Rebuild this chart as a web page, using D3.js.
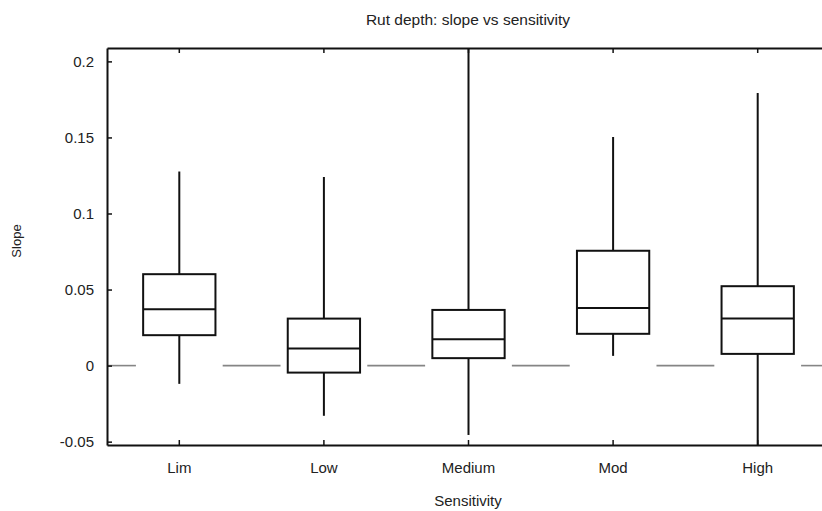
<!DOCTYPE html>
<html>
<head>
<meta charset="utf-8">
<script src="https://cdn.jsdelivr.net/npm/d3@7"></script>
<style>
  html, body { margin: 0; padding: 0; background: #fff; }
  svg { display: block; font-family: "Liberation Sans", Arial, sans-serif; }
</style>
</head>
<body>
<svg id="chart" width="822" height="511"></svg>
<script>
// ---- data ----
const categories = ["Lim", "Low", "Medium", "Mod", "High"];
const whiskerLow  = [-0.012, -0.033, -0.0456, 0.0064, -0.07];
const boxLow      = [0.0200, -0.0046, 0.0049, 0.0209, 0.0077];
const medians     = [0.0371, 0.0112, 0.0174, 0.0378, 0.0309];
const boxHigh     = [0.0601, 0.0309, 0.0366, 0.0755, 0.0522];
const whiskerHigh = [0.1276, 0.124, 0.26, 0.1503, 0.1792];
const yTickValues = [-0.05, 0, 0.05, 0.1, 0.15, 0.2];
const yTickLabels = ["-0.05", "0", "0.05", "0.1", "0.15", "0.2"];
const title = "Rut depth: slope vs sensitivity";
const xTitle = "Sensitivity";
const yTitle = "Slope";

(function () {
const data = categories.map((c, i) => ({
  cat: c, wl: whiskerLow[i], q1: boxLow[i], med: medians[i], q3: boxHigh[i], wh: whiskerHigh[i]
}));

// ---- layout ----
const mLeft = 107, mTop = 48, mBottom = 445, mRight = 830;
const svg = d3.select("#chart");
svg.append("rect").attr("width", 822).attr("height", 511).attr("fill", "#fff");

const x = d3.scaleBand().domain(categories).range([mLeft, mRight]).padding(0);
const y = d3.scaleLinear().domain([-0.0522, 0.2088]).range([mBottom, mTop]);
const bw = x.bandwidth();
const boxW = bw * 0.5;

svg.append("defs").append("clipPath").attr("id", "plotclip")
  .append("rect").attr("x", mLeft).attr("y", mTop).attr("width", mRight - mLeft).attr("height", mBottom - mTop);

const plot = svg.append("g").attr("clip-path", "url(#plotclip)");

// zero reference line segments (between categories)
const bounds = d3.range(categories.length + 1).map(i => mLeft + i * bw);
plot.selectAll("line.zero").data(bounds).join("line")
  .attr("class", "zero")
  .attr("x1", d => Math.max(mLeft, d - bw * 0.2))
  .attr("x2", d => Math.min(mRight, d + bw * 0.2))
  .attr("y1", y(0)).attr("y2", y(0))
  .attr("stroke", "#858585").attr("stroke-width", 1.6);

const g = plot.selectAll("g.box").data(data).join("g").attr("class", "box")
  .attr("transform", d => `translate(${x(d.cat) + bw / 2},0)`);

g.append("line").attr("x1", 0).attr("x2", 0)
  .attr("y1", d => y(d.q3)).attr("y2", d => y(d.wh))
  .attr("stroke", "#111").attr("stroke-width", 2);
g.append("line").attr("x1", 0).attr("x2", 0)
  .attr("y1", d => y(d.q1)).attr("y2", d => y(d.wl))
  .attr("stroke", "#111").attr("stroke-width", 2);
g.append("rect")
  .attr("x", -boxW / 2).attr("width", boxW)
  .attr("y", d => y(d.q3)).attr("height", d => y(d.q1) - y(d.q3))
  .attr("fill", "#fff").attr("stroke", "#111").attr("stroke-width", 2);
g.append("line").attr("x1", -boxW / 2).attr("x2", boxW / 2)
  .attr("y1", d => y(d.med)).attr("y2", d => y(d.med))
  .attr("stroke", "#111").attr("stroke-width", 2);

// ---- axes ----
const fs = "15px";
const yAxis = d3.axisLeft(y).tickValues(yTickValues)
  .tickFormat((d, i) => yTickLabels[i]).tickSizeInner(-5).tickSizeOuter(0).tickPadding(13);
const ya = svg.append("g").attr("transform", `translate(${mLeft},0)`).call(yAxis);
const xAxis = d3.axisBottom(x).tickSizeInner(-5).tickSizeOuter(0).tickPadding(17);
const xa = svg.append("g").attr("transform", `translate(0,${mBottom})`).call(xAxis);
const tAxis = d3.axisTop(x).tickSizeInner(-5).tickSizeOuter(0).tickFormat("");
const ta = svg.append("g").attr("transform", `translate(0,${mTop})`).call(tAxis);

[ya, xa, ta].forEach(a => {
  a.select(".domain").attr("stroke", "#111").attr("stroke-width", 2);
  a.selectAll(".tick line").attr("stroke", "#111").attr("stroke-width", 1.5);
  a.selectAll(".tick text").attr("fill", "#222").style("font-size", fs)
    .style("font-family", '"Liberation Sans", Arial, sans-serif');
});

// ---- titles ----
svg.append("text").attr("x", 468).attr("y", 25).attr("text-anchor", "middle")
  .attr("fill", "#222").style("font-size", "15.5px").text(title);
svg.append("text").attr("x", 468).attr("y", 506).attr("text-anchor", "middle")
  .attr("fill", "#222").style("font-size", "15px").text(xTitle);
svg.append("text").attr("transform", "translate(21,241) rotate(-90)").attr("text-anchor", "middle")
  .attr("fill", "#222").style("font-size", "13px").text(yTitle);
})();
</script>
</body>
</html>
